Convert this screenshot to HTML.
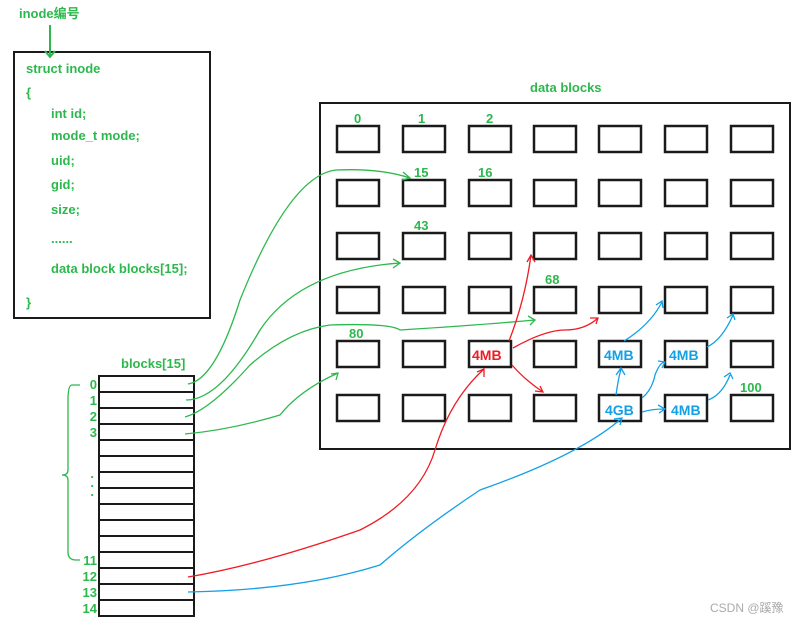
<!DOCTYPE html>
<html><head><meta charset="utf-8"><style>
body{margin:0;background:#fff;width:799px;height:620px;overflow:hidden}
svg{position:absolute;left:0;top:0}
text{font-family:"Liberation Sans","Noto Sans CJK SC",sans-serif;font-weight:bold;font-size:13px}
.g{fill:#2db84d}.r{fill:#ee1c24}.b{fill:#12a0e6}
.big{font-size:14px}
</style></head><body>
<svg width="799" height="620" viewBox="0 0 799 620">
<g fill="none" stroke="#1a1a1a" stroke-width="2">
<rect x="14" y="52" width="196" height="266"/>
<rect x="320" y="103" width="470" height="346"/>
</g>
<g fill="none" stroke="#1a1a1a" stroke-width="2.5">
<rect x="337" y="126" width="42" height="26"/><rect x="403" y="126" width="42" height="26"/><rect x="469" y="126" width="42" height="26"/><rect x="534" y="126" width="42" height="26"/><rect x="599" y="126" width="42" height="26"/><rect x="665" y="126" width="42" height="26"/><rect x="731" y="126" width="42" height="26"/>
<rect x="337" y="180" width="42" height="26"/><rect x="403" y="180" width="42" height="26"/><rect x="469" y="180" width="42" height="26"/><rect x="534" y="180" width="42" height="26"/><rect x="599" y="180" width="42" height="26"/><rect x="665" y="180" width="42" height="26"/><rect x="731" y="180" width="42" height="26"/>
<rect x="337" y="233" width="42" height="26"/><rect x="403" y="233" width="42" height="26"/><rect x="469" y="233" width="42" height="26"/><rect x="534" y="233" width="42" height="26"/><rect x="599" y="233" width="42" height="26"/><rect x="665" y="233" width="42" height="26"/><rect x="731" y="233" width="42" height="26"/>
<rect x="337" y="287" width="42" height="26"/><rect x="403" y="287" width="42" height="26"/><rect x="469" y="287" width="42" height="26"/><rect x="534" y="287" width="42" height="26"/><rect x="599" y="287" width="42" height="26"/><rect x="665" y="287" width="42" height="26"/><rect x="731" y="287" width="42" height="26"/>
<rect x="337" y="341" width="42" height="26"/><rect x="403" y="341" width="42" height="26"/><rect x="469" y="341" width="42" height="26"/><rect x="534" y="341" width="42" height="26"/><rect x="599" y="341" width="42" height="26"/><rect x="665" y="341" width="42" height="26"/><rect x="731" y="341" width="42" height="26"/>
<rect x="337" y="395" width="42" height="26"/><rect x="403" y="395" width="42" height="26"/><rect x="469" y="395" width="42" height="26"/><rect x="534" y="395" width="42" height="26"/><rect x="599" y="395" width="42" height="26"/><rect x="665" y="395" width="42" height="26"/><rect x="731" y="395" width="42" height="26"/>
</g>
<g fill="none" stroke="#1a1a1a" stroke-width="2">
<rect x="99" y="376" width="95" height="240"/>
<path d="M99 392H194M99 408H194M99 424H194M99 440H194M99 456H194M99 472H194M99 488H194M99 504H194M99 520H194M99 536H194M99 552H194M99 568H194M99 584H194M99 600H194"/>
</g>
<g fill="none" stroke="#2db84d" stroke-width="1.3">
<path d="M50 25V56M45 51L50 57L55 51" stroke-width="2"/>
<path d="M80 385H72Q68 385 68 400V470Q68 475 62 475Q68 475 68 480V552Q68 560 76 560H80"/>
<path d="M188 384Q215 380 240 300Q290 175 336 170Q380 168 410 178M403 172L410 178L402 180"/>
<path d="M186 400Q220 400 260 330Q300 270 400 263M393 259L400 263L393 268"/>
<path d="M185 417Q210 410 250 365Q290 330 330 325Q390 323 400 330Q480 325 535 320M528 316L535 320L530 325"/>
<path d="M185 434Q230 430 280 415Q300 390 338 373M331 374L338 373L336 380"/>
</g>
<g fill="none" stroke="#ee1c24" stroke-width="1.3">
<path d="M188 577Q260 565 360 530Q420 500 435 450Q450 400 484 369M477 372L484 369L484 377"/>
<path d="M509 341Q525 300 531 255M527 262L531 255L535 262"/>
<path d="M513 348Q545 330 565 330Q585 330 598 318M590 318L598 318L596 324"/>
<path d="M512 365Q525 380 543 392M535 391L543 392L540 386"/>
</g>
<g fill="none" stroke="#12a0e6" stroke-width="1.3">
<path d="M188 592Q300 590 380 565Q420 530 480 490Q580 455 622 418M614 419L622 418L620 425"/>
<path d="M616 395Q618 380 621 369M616 375L621 368L625 375"/>
<path d="M624 341Q650 325 662 302M656 305L662 301L663 308"/>
<path d="M642 398Q652 390 655 375Q660 362 665 362M658 361L665 362L662 368"/>
<path d="M707 347Q722 340 733 315M727 318L733 314L735 320"/>
<path d="M642 412Q652 409 664 409M658 405L665 409L659 413"/>
<path d="M708 400Q722 395 730 375M724 377L730 373L733 379"/>
</g>
<text x="19" y="18" class="g">inode编号</text>
<text x="26" y="73" class="g">struct inode</text>
<text x="26" y="97" class="g">{</text>
<text x="51" y="118" class="g">int id;</text>
<text x="51" y="140" class="g">mode_t mode;</text>
<text x="51" y="165" class="g">uid;</text>
<text x="51" y="189" class="g">gid;</text>
<text x="51" y="214" class="g">size;</text>
<text x="51" y="243" class="g">......</text>
<text x="51" y="273" class="g">data block  blocks[15];</text>
<text x="26" y="307" class="g">}</text>
<text x="530" y="92" class="g">data blocks</text>
<text x="121" y="368" class="g">blocks[15]</text>
<g class="g big" text-anchor="end">
<text x="97" y="389">0</text><text x="97" y="405">1</text><text x="97" y="421">2</text><text x="97" y="437">3</text>
<text x="97" y="565">11</text><text x="97" y="581">12</text><text x="97" y="597">13</text><text x="97" y="613">14</text>
<text x="94" y="478">.</text><text x="94" y="487">.</text><text x="94" y="496">.</text>
</g>
<text x="354" y="123" class="g">0</text><text x="418" y="123" class="g">1</text><text x="486" y="123" class="g">2</text>
<text x="414" y="177" class="g">15</text><text x="478" y="177" class="g">16</text>
<text x="414" y="230" class="g">43</text><text x="545" y="284" class="g">68</text>
<text x="349" y="338" class="g">80</text><text x="740" y="392" class="g">100</text>
<text x="472" y="360" class="r big">4MB</text>
<text x="604" y="360" class="b big">4MB</text><text x="669" y="360" class="b big">4MB</text>
<text x="605" y="415" class="b big">4GB</text><text x="671" y="415" class="b big">4MB</text>
<text x="710" y="612" style="font-weight:normal;font-size:12px;fill:#aaa">CSDN @蹊豫</text>
</svg>
</body></html>
